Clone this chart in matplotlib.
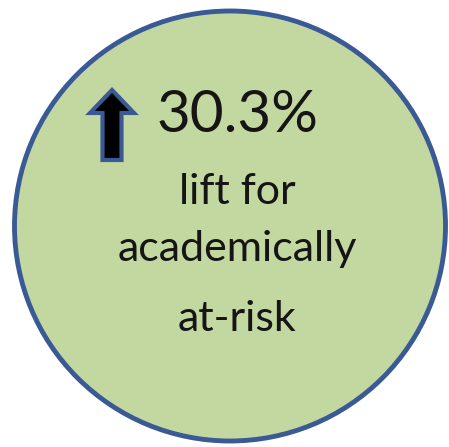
import matplotlib
matplotlib.use("Agg")
import matplotlib.pyplot as plt
import matplotlib.patches as mpatches

# ── Content ───────────────────────────────────────────────────────────────────
VALUE = "30.3%"
LABEL_LINES = ["lift for", "academically", "at-risk"]

FILL = "#c3d8a0"
EDGE = "#3a5a96"
TEXT = "#151515"

W, H = 449, 447
fig = plt.figure(figsize=(W / 100, H / 100), dpi=100)
ax = fig.add_axes([0, 0, 1, 1])
ax.set_xlim(0, W)
ax.set_ylim(H, 0)
ax.set_aspect("equal")
ax.axis("off")

# circle badge
ax.add_patch(mpatches.Ellipse((230, 226), 431, 430, facecolor=FILL,
                              edgecolor=EDGE, lw=3.5))

# up arrow
ax.add_patch(mpatches.FancyArrow(112, 160, 0, -70, width=19, head_width=44,
                                 head_length=23, length_includes_head=True,
                                 facecolor="black", edgecolor=EDGE, lw=3))

ax.text(157, 132, VALUE, ha="left", va="baseline", fontsize=42,
        family="Lato", color=TEXT)

baselines = [204, 261, 331]
for line, yb in zip(LABEL_LINES, baselines):
    ax.text(237, yb, line, ha="center", va="baseline", fontsize=31,
            family="Lato", color=TEXT)

plt.savefig("out.png", dpi=100)
